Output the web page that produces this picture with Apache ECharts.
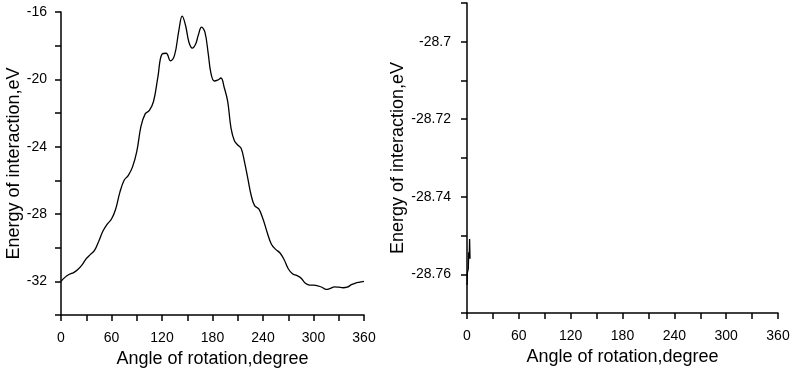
<!DOCTYPE html>
<html>
<head>
<meta charset="utf-8">
<script src="https://cdn.jsdelivr.net/npm/echarts@6/dist/echarts.min.js"></script>
<style>
  html, body { margin: 0; padding: 0; background: #fff; }
  #chart { width: 794px; height: 370px; }
</style>
</head>
<body>
<div id="chart"></div>
<script>
// left panel: full rotation scan
var angleLeft = [0, 5, 10, 15, 20, 25, 30, 35, 40, 45, 50, 55, 60, 65, 70, 75, 80, 85, 90, 95,
  100, 105, 110, 115, 120, 125, 130, 135, 140, 144, 148, 152, 156, 160, 163, 167, 171, 175, 178,
  182, 186, 190, 194, 198, 202, 206, 210, 214, 218, 222, 226, 230, 235, 240, 245, 250, 255, 260,
  265, 270, 275, 280, 285, 290, 295, 300, 305, 310, 315, 320, 325, 330, 335, 340, 345, 350, 355, 360];
var energyLeft = [-32.0, -31.75, -31.58, -31.48, -31.3, -31.02, -30.65, -30.4, -30.15, -29.6,
  -29.0, -28.6, -28.3, -27.7, -26.7, -26.0, -25.7, -25.2, -24.3, -22.8,
  -22.05, -21.85, -21.3, -19.9, -18.5, -18.45, -18.9, -18.55, -17.1, -16.25, -16.8, -17.8, -18.15, -17.9, -17.4, -16.9, -17.2, -18.5, -19.6,
  -20.1, -20.05, -19.92, -20.5, -21.3, -22.9, -23.65, -23.9, -24.1, -24.9, -25.9, -26.9, -27.5, -27.7, -28.3, -29.1, -29.8, -30.1, -30.3,
  -30.7, -31.25, -31.55, -31.65, -31.8, -32.1, -32.22, -32.23, -32.27, -32.35, -32.48, -32.42, -32.33, -32.35, -32.38, -32.35, -32.2, -32.1, -32.05, -32.0];

// right panel: only a few degrees near zero
var angleRight = [0, 0.5, 1, 1.5, 2, 2.5, 3, 3.5];
var energyRight = [-28.7628, -28.7595, -28.7600, -28.7586, -28.7543, -28.7560, -28.7509, -28.7560];

var xTicks = [0, 60, 120, 180, 240, 300, 360];

var chart = echarts.init(document.getElementById('chart'));

function pairs(xs, ys) {
  return xs.map(function (x, i) { return [x, ys[i]]; });
}

var font = 'Liberation Sans, Arial, sans-serif';
var lineAxis = { show: true, lineStyle: { color: '#000', width: 1.5 } };
var tickAxis = { show: true, inside: false, length: 6, lineStyle: { color: '#000', width: 1.5 } };

function xAxisFor(gridIndex) {
  return {
    type: 'value', gridIndex: gridIndex, min: 0, max: 360, interval: 30,
    name: 'Angle of rotation,degree', nameLocation: 'middle', nameGap: 33,
    nameTextStyle: { fontFamily: font, fontSize: 18, color: '#000' },
    axisLine: lineAxis, axisTick: tickAxis, splitLine: { show: false },
    axisLabel: {
      fontFamily: font, fontSize: 14, color: '#000', margin: 16,
      formatter: function (v) { return xTicks.indexOf(v) >= 0 ? String(v) : ''; }
    }
  };
}

var option = {
  animation: false,
  backgroundColor: '#fff',
  grid: [
    { left: 61, top: 12, width: 303, height: 303, outerBoundsMode: 'none' },
    { left: 467, top: 3, width: 311, height: 310, outerBoundsMode: 'none' }
  ],
  xAxis: [xAxisFor(0), xAxisFor(1)],
  yAxis: [
    {
      type: 'value', gridIndex: 0, min: -34, max: -16, interval: 2,
      name: 'Energy of interaction,eV', nameLocation: 'middle', nameGap: 36,
      nameTextStyle: { fontFamily: font, fontSize: 18, color: '#000' },
      axisLine: lineAxis, axisTick: tickAxis, splitLine: { show: false },
      axisLabel: {
        fontFamily: font, fontSize: 14, color: '#000', margin: 14,
        formatter: function (v) { return Math.round(v) % 4 === 0 ? String(v) : ''; }
      }
    },
    {
      type: 'value', gridIndex: 1, min: -28.77, max: -28.69, interval: 0.01,
      name: 'Energy of interaction,eV', nameLocation: 'middle', nameGap: 60,
      nameTextStyle: { fontFamily: font, fontSize: 18, color: '#000' },
      axisLine: lineAxis, axisTick: tickAxis, splitLine: { show: false },
      axisLabel: {
        fontFamily: font, fontSize: 14, color: '#000', margin: 16,
        formatter: function (v) {
          return Math.round(v * 100) % 2 === 0 ? String(parseFloat(v.toFixed(2))) : '';
        }
      }
    }
  ],
  series: [
    {
      type: 'line', xAxisIndex: 0, yAxisIndex: 0, data: pairs(angleLeft, energyLeft),
      smooth: 0.4, showSymbol: false, lineStyle: { color: '#000', width: 1.3 }
    },
    {
      type: 'line', xAxisIndex: 1, yAxisIndex: 1, data: pairs(angleRight, energyRight),
      showSymbol: false, lineStyle: { color: '#000', width: 1.3 }
    }
  ]
};

chart.setOption(option);
</script>
</body>
</html>
